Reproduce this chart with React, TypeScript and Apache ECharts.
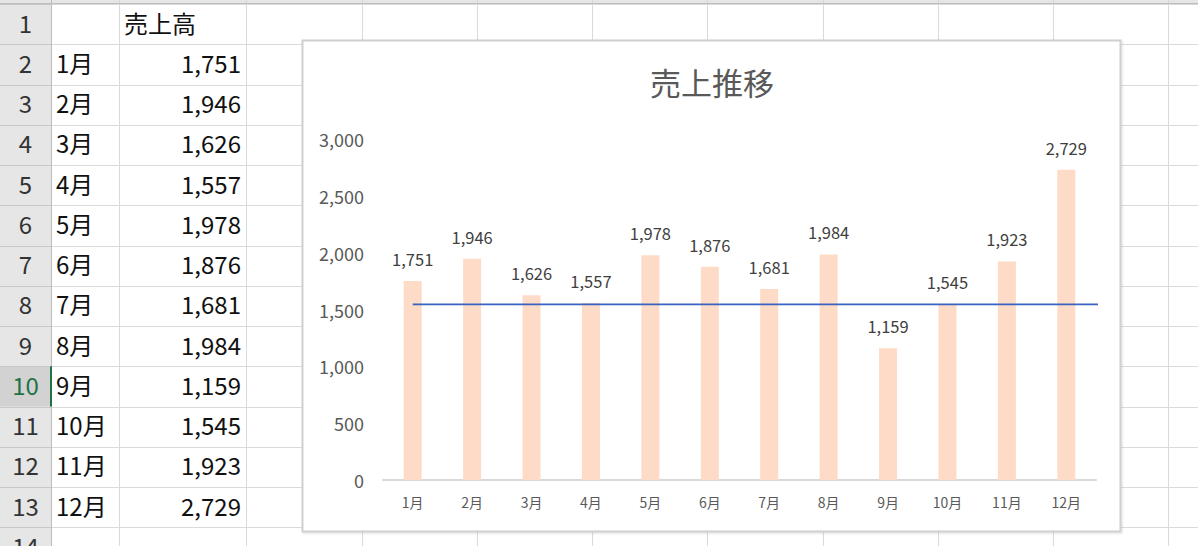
import React, { useEffect, useRef } from "react";
import * as echarts from "echarts";

const months = ["1月", "2月", "3月", "4月", "5月", "6月", "7月", "8月", "9月", "10月", "11月", "12月"];
const sales = [1751, 1946, 1626, 1557, 1978, 1876, 1681, 1984, 1159, 1545, 1923, 2729];
const headerLabel = "売上高";
const chartTitle = "売上推移";
const targetValue = 1545;
const targetSpan = [0, 11.56];
const yTicks = [0, 500, 1000, 1500, 2000, 2500, 3000];

const W = 1198;
const H = 546;
const FONT = '"Noto Sans CJK JP", "Noto Sans", sans-serif';

const fmt = (v: number) => v.toLocaleString("en-US");

function buildSheet(): any[] {
  const els: any[] = [];
  const rowH = 40.25;
  const top0 = 4;
  const rowTop = (n: number) => top0 + (n - 1) * rowH;
  const colEdges = [51, 119, 246, 362, 477, 592, 707, 823, 938, 1053, 1168];
  const ty = -2;
  els.push({ type: "rect", z: 0, shape: { x: 0, y: 0, width: W, height: top0 }, style: { fill: "#e6e6e6" } });
  els.push({ type: "rect", z: 0, shape: { x: 0, y: 0, width: 51, height: H }, style: { fill: "#e6e6e6" } });
  els.push({ type: "rect", z: 0, shape: { x: 0, y: rowTop(10), width: 51, height: rowH }, style: { fill: "#d2d2d2" } });
  for (let n = 1; n <= 15; n++) {
    const y = Math.round(rowTop(n)) + 0.5;
    els.push({ type: "line", z: 1, shape: { x1: 51, y1: y, x2: W, y2: y }, style: { stroke: "#dadada", lineWidth: 1 } });
    els.push({ type: "line", z: 1, shape: { x1: 0, y1: y, x2: 51, y2: y }, style: { stroke: "#c8c8c8", lineWidth: 1 } });
  }
  colEdges.forEach((x, i) => {
    els.push({
      type: "line", z: 1,
      shape: { x1: x + 0.5, y1: 0, x2: x + 0.5, y2: H },
      style: { stroke: i === 0 ? "#bdbdbd" : "#dadada", lineWidth: 1 },
    });
  });
  els.push({ type: "line", z: 1, shape: { x1: 0, y1: top0 - 0.5, x2: W, y2: top0 - 0.5 }, style: { stroke: "#bdbdbd", lineWidth: 1 } });
  els.push({ type: "line", z: 2, shape: { x1: 51, y1: rowTop(10), x2: 51, y2: rowTop(11) }, style: { stroke: "#217346", lineWidth: 2 } });
  for (let n = 1; n <= 14; n++) {
    els.push({
      type: "text", z: 2,
      style: {
        text: String(n), x: 25.5, y: rowTop(n) + rowH / 2 + ty,
        fill: n === 10 ? "#217346" : "#333333",
        font: `24px ${FONT}`, align: "center", verticalAlign: "middle",
        textAlign: "center", textVerticalAlign: "middle",
      },
    });
  }
  els.push({
    type: "text", z: 2,
    style: { text: headerLabel, x: 124, y: rowTop(1) + rowH / 2 + ty, fill: "#111111", font: `24px ${FONT}`, align: "left", verticalAlign: "middle", textAlign: "left", textVerticalAlign: "middle" },
  });
  months.forEach((m, i) => {
    const cy = rowTop(i + 2) + rowH / 2 + ty;
    els.push({
      type: "text", z: 2,
      style: { text: m, x: 56, y: cy, fill: "#111111", font: `24px ${FONT}`, align: "left", verticalAlign: "middle", textAlign: "left", textVerticalAlign: "middle" },
    });
    els.push({
      type: "text", z: 2,
      style: { text: fmt(sales[i]), x: 241, y: cy, fill: "#111111", font: `24px ${FONT}`, align: "right", verticalAlign: "middle", textAlign: "right", textVerticalAlign: "middle" },
    });
  });
  els.push({
    type: "rect", z: 3,
    shape: { x: 302.5, y: 40.5, width: 818, height: 491 },
    style: { fill: "#ffffff", stroke: "#d0d0d0", lineWidth: 2, shadowBlur: 2, shadowOffsetX: 1, shadowOffsetY: 1, shadowColor: "rgba(0,0,0,0.12)" },
  });
  els.push({
    type: "text", z: 4,
    style: { text: chartTitle, x: 712, y: 81, fill: "#595959", font: `31px ${FONT}`, align: "center", verticalAlign: "middle", textAlign: "center", textVerticalAlign: "middle" },
  });
  return els;
}

export default function App() {
  const ref = useRef<HTMLDivElement>(null);
  useEffect(() => {
    document.body.style.margin = "0";
    const chart = echarts.init(ref.current!, null, { renderer: "svg" });
    chart.setOption({
      animation: false,
      backgroundColor: "#ffffff",
      textStyle: { fontFamily: FONT },
      graphic: { elements: buildSheet() },
      grid: { left: 383, right: W - 1096, top: 139, bottom: H - 480, containLabel: false },
      xAxis: [
        {
          type: "category", data: months, z: 10,
          axisLine: { lineStyle: { color: "#d9d9d9", width: 2 } },
          axisTick: { show: false },
          axisLabel: { color: "#595959", fontSize: 14, margin: 15, fontFamily: FONT },
        },
        { type: "value", min: -0.5, max: 11.5, show: false },
      ],
      yAxis: {
        type: "value", min: yTicks[0], max: yTicks[yTicks.length - 1], interval: 500, z: 10,
        axisLine: { show: false }, axisTick: { show: false }, splitLine: { show: false },
        axisLabel: { color: "#595959", fontSize: 18, margin: 19, padding: [0, 0, 4, 0], fontFamily: FONT, formatter: (v: number) => fmt(v) },
      },
      series: [
        {
          type: "bar", data: sales, barWidth: 18, z: 10,
          itemStyle: { color: "#fddbc7" },
          label: { show: true, position: "top", distance: 14, color: "#404040", fontSize: 16.5, fontFamily: FONT, formatter: (p: any) => fmt(p.value) },
        },
        {
          type: "line", xAxisIndex: 1, z: 11, symbol: "none",
          data: [[targetSpan[0], targetValue], [targetSpan[1], targetValue]],
          lineStyle: { color: "#3a62c2", width: 1.8 },
        },
      ],
    });
    return () => chart.dispose();
  }, []);
  return <div ref={ref} style={{ width: W, height: H }} />;
}
